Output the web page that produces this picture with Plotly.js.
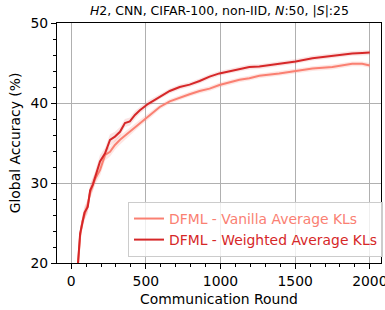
<!DOCTYPE html>
<html><head><meta charset="utf-8">
<script src="https://cdn.plot.ly/plotly-3.0.1.min.js"></script>
<style>html,body{margin:0;padding:0;background:#fff}</style>
</head><body><div id="chart" style="width:385px;height:310px"></div>
<script>
const rounds = [40,45,60,75,89,111,127,145,160,193,227,260,293,327,360,393,427,460,516,593,660,727,793,860,927,993,1060,1127,1193,1260,1393,1504,1616,1749,1882,1949,2000];
const vanilla = [18.5,20.0,23.4,25.2,26.0,27.3,28.8,29.9,30.5,31.6,33.5,33.9,34.75,35.4,35.9,36.4,37.0,37.5,38.3,39.5,40.2,40.7,41.1,41.5,41.8,42.25,42.6,42.9,43.1,43.4,43.7,44.0,44.3,44.5,44.9,44.9,44.7];
const weighted = [18.5,20.0,23.7,25.0,26.3,27.0,29.1,29.8,30.8,32.7,33.7,35.4,35.8,36.4,37.5,37.7,38.5,39.1,39.9,40.8,41.5,42.0,42.3,42.75,43.3,43.7,44.0,44.3,44.5,44.55,44.9,45.2,45.6,45.9,46.2,46.25,46.3];
const vanillaStd = [0.8,0.8,0.8,0.8,0.8,0.8,0.8,0.8,0.7,0.7,0.7,0.6,0.6,0.6,0.5,0.5,0.5,0.4,0.4,0.3,0.3,0.3,0.3,0.3,0.3,0.3,0.3,0.3,0.3,0.3,0.3,0.3,0.3,0.3,0.3,0.3,0.3];
const weightedStd = [0.8,0.8,0.8,0.8,0.8,0.8,0.8,0.8,0.8,0.8,0.7,0.7,0.6,0.6,0.5,0.5,0.5,0.4,0.4,0.3,0.3,0.3,0.3,0.3,0.3,0.3,0.3,0.3,0.3,0.3,0.3,0.3,0.3,0.3,0.3,0.3,0.3];
const names = ['DFML - Vanilla Average KLs','DFML - Weighted Average KLs'];
const colors = ['#fa8072','#d62728'];
const fills = ['rgba(250,128,114,0.2)','rgba(214,39,40,0.13)'];
const titleText = '<i>H</i>2, CNN, CIFAR-100, non-IID, <i>N</i>:50, |<i>S</i>|:25';

function band(y, s, fill){
  const up = y.map((v,i)=>v+s[i]);
  const lo = y.map((v,i)=>v-s[i]);
  return [
    {x: rounds, y: lo, mode:'lines', line:{width:0}, showlegend:false, hoverinfo:'skip'},
    {x: rounds, y: up, mode:'lines', line:{width:0}, fill:'tonexty', fillcolor:fill, showlegend:false, hoverinfo:'skip'}
  ];
}
const series = [vanilla, weighted];
const stds = [vanillaStd, weightedStd];
let traces = [];
series.forEach((y,i)=>{ traces = traces.concat(band(y, stds[i], fills[i])); });
series.forEach((y,i)=>{
  traces.push({x: rounds, y: y, mode:'lines', name: names[i], line:{color: colors[i], width:2}});
});
const font = {family:'DejaVu Sans', size:13.9, color:'#000'};
const layout = {
  width:385, height:310,
  margin:{l:57, r:3, t:23, b:47},
  paper_bgcolor:'#fff', plot_bgcolor:'#fff',
  font: font,
  title:{text: titleText, x:0.57, xanchor:'center', y:0.965, yanchor:'middle', font:{family:'DejaVu Sans', size:12.5, color:'#000'}},
  xaxis:{range:[-95,2075], tickvals:[0,500,1000,1500,2000], ticks:'outside', ticklen:5, tickcolor:'#000',
    ticklabeloverflow:'allow',
    showgrid:true, gridcolor:'#b0b0b0', gridwidth:1, zeroline:false, showline:true, linecolor:'#000', linewidth:1, mirror:true,
    minor:{dtick:100, tick0:0, ticks:'outside', ticklen:3, tickcolor:'#000', showgrid:false},
    title:{text:'Communication Round', font:font, standoff:6}, tickfont:font},
  yaxis:{range:[20,50], tickvals:[20,30,40,50], ticks:'outside', ticklen:5, tickcolor:'#000',
    showgrid:true, gridcolor:'#b0b0b0', gridwidth:1, zeroline:false, showline:true, linecolor:'#000', linewidth:1, mirror:true,
    minor:{dtick:2, tick0:20, ticks:'outside', ticklen:3, tickcolor:'#000', showgrid:false},
    title:{text:'Global Accuracy (%)', font:font, standoff:6}, tickfont:font},
  legend:{x:1.003, xanchor:'right', y:0.025, yanchor:'bottom', traceorder:'normal', bgcolor:'rgba(255,255,255,0.8)', bordercolor:'#cccccc', borderwidth:1,
    font:{family:'DejaVu Sans', size:13.9}},
  showlegend:true
};
Plotly.newPlot('chart', traces, layout, {staticPlot:true, displayModeBar:false}).then(()=>{
  const texts = document.querySelectorAll('.legend .traces text.legendtext');
  texts.forEach(t=>{ const idx = names.indexOf(t.textContent); if(idx>=0) t.style.fill = colors[idx]; });
});
</script></body></html>
